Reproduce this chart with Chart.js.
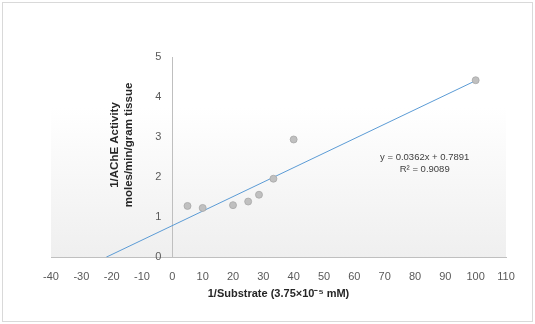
<!DOCTYPE html>
<html>
<head>
<meta charset="utf-8">
<script src="https://cdn.jsdelivr.net/npm/chart.js@4.4.0/dist/chart.umd.min.js"></script>
<style>
  html, body { margin: 0; padding: 0; background: #fff; }
  #wrap { width: 535px; height: 324px; position: relative; }
</style>
</head>
<body>
<div id="wrap"><canvas id="chart"></canvas></div>
<script>
// Lineweaver-Burk data
var substrateInv = [5, 10, 20, 25, 28.57, 33.33, 40, 100];
var activityInv = [1.28, 1.23, 1.30, 1.39, 1.56, 1.96, 2.94, 4.42];

// axis ticks
var xTickValues = [-40, -30, -20, -10, 0, 10, 20, 30, 40, 50, 60, 70, 80, 90, 100, 110];
var yTickValues = [0, 1, 2, 3, 4, 5];

// linear trendline as printed on the chart
var trendSlope = 0.0362;
var trendIntercept = 0.7891;
var trendText = ['y = 0.0362x + 0.7891', 'R\u00B2 = 0.9089'];

var xTitle = '1/Substrate (3.75\u00D710\u207B\u2075 mM)';
var yTitle = ['1/AChE Activity', 'moles/min/gram tissue'];

var FONT = "'Liberation Sans', Arial, sans-serif";

// trendline runs from its x-intercept to the last point
var xEnd = Math.max.apply(null, substrateInv);
var trendPoints = [
    {x: -trendIntercept / trendSlope, y: 0},
    {x: xEnd, y: trendSlope * xEnd + trendIntercept}
];

var points = substrateInv.map(function (x, i) {
    return {x: x, y: activityInv[i]};
});

// background, outer frame and plot area shading
var framePlugin = {
    id: 'frame',
    beforeDraw: function (chart) {
        var ctx = chart.ctx;
        var a = chart.chartArea;
        ctx.save();
        ctx.fillStyle = '#ffffff';
        ctx.fillRect(0, 0, chart.width, chart.height);
        var g = ctx.createLinearGradient(0, a.top, 0, a.bottom);
        g.addColorStop(0, '#ffffff');
        g.addColorStop(0.25, '#ffffff');
        g.addColorStop(1, '#efefef');
        ctx.fillStyle = g;
        ctx.fillRect(a.left, a.top, a.right - a.left, a.bottom - a.top);
        ctx.strokeStyle = '#d9d9d9';
        ctx.lineWidth = 1;
        ctx.strokeRect(2.5, 2.5, chart.width - 5, chart.height - 5);
        ctx.restore();
    }
};

// y tick labels beside the axis at x = 0, rotated y title, trendline label
var textPlugin = {
    id: 'texts',
    afterDraw: function (chart) {
        var ctx = chart.ctx;
        var xs = chart.scales.x, ys = chart.scales.y;
        var axisX = xs.getPixelForValue(0);

        ctx.save();
        ctx.fillStyle = '#595959';
        ctx.font = '11px ' + FONT;
        ctx.textAlign = 'right';
        ctx.textBaseline = 'middle';
        ys.ticks.forEach(function (t) {
            ctx.fillText(String(t.value), axisX - 11, ys.getPixelForValue(t.value));
        });
        ctx.restore();

        ctx.save();
        ctx.translate(122, 145);
        ctx.rotate(-Math.PI / 2);
        ctx.fillStyle = '#262626';
        ctx.font = 'bold 11.5px ' + FONT;
        ctx.textAlign = 'center';
        ctx.textBaseline = 'middle';
        ctx.fillText(yTitle[0], 0, -7);
        ctx.fillText(yTitle[1], 0, 7);
        ctx.restore();

        ctx.save();
        ctx.fillStyle = '#404040';
        ctx.font = '9.5px ' + FONT;
        ctx.textAlign = 'center';
        ctx.textBaseline = 'middle';
        var cx = xs.getPixelForValue(83.2);
        var cy = ys.getPixelForValue(2.5);
        ctx.fillText(trendText[0], cx, cy);
        ctx.fillText(trendText[1], cx, cy + 12.5);
        ctx.restore();
    }
};

var config = {
    type: 'scatter',
    data: {
        datasets: [{
            label: 'Trendline',
            type: 'line',
            data: trendPoints,
            borderColor: '#5b9bd5',
            borderWidth: 1,
            pointRadius: 0,
            fill: false,
            order: 2
        }, {
            label: '1/AChE',
            data: points,
            backgroundColor: '#c0c0c0',
            borderColor: '#a6a6a6',
            borderWidth: 0.75,
            pointRadius: 3.5,
            order: 1
        }]
    },
    options: {
        responsive: false,
        animation: false,
        devicePixelRatio: 1,
        layout: {padding: {left: 51, right: 29, top: 57, bottom: 23}},
        plugins: {
            legend: {display: false},
            tooltip: {enabled: false}
        },
        scales: {
            x: {
                type: 'linear',
                position: 'bottom',
                min: xTickValues[0],
                max: xTickValues[xTickValues.length - 1],
                afterBuildTicks: function (axis) {
                    axis.ticks = xTickValues.map(function (v) { return {value: v}; });
                },
                grid: {display: false, drawTicks: false},
                border: {display: true, color: '#bfbfbf', width: 1},
                ticks: {
                    autoSkip: false,
                    maxRotation: 0,
                    padding: 13,
                    color: '#595959',
                    font: {family: FONT, size: 11}
                },
                title: {
                    display: true,
                    text: xTitle,
                    color: '#262626',
                    font: {family: FONT, size: 11, weight: 'bold'},
                    padding: {top: -8.6, bottom: 0}
                }
            },
            y: {
                type: 'linear',
                position: {x: 0},
                min: yTickValues[0],
                max: yTickValues[yTickValues.length - 1],
                afterBuildTicks: function (axis) {
                    axis.ticks = yTickValues.map(function (v) { return {value: v}; });
                },
                grid: {display: false, drawTicks: false},
                border: {display: true, color: '#bfbfbf', width: 1},
                ticks: {display: false}
            }
        }
    },
    plugins: [framePlugin, textPlugin]
};

var canvas = document.getElementById('chart');
canvas.width = 535;
canvas.height = 324;
var myChart = new Chart(canvas.getContext('2d'), config);
</script>
</body>
</html>
